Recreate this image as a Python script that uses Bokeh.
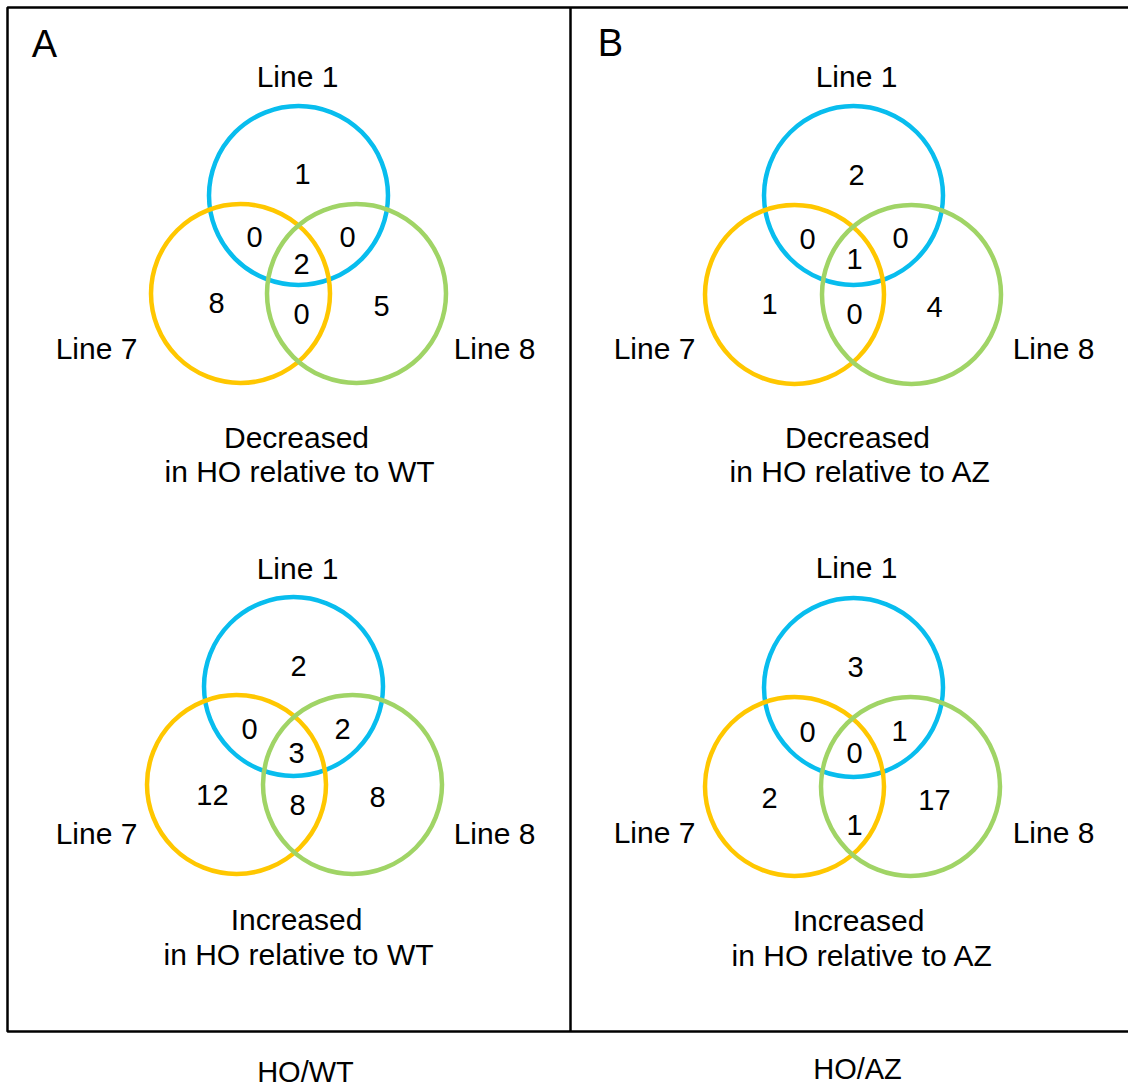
from bokeh.plotting import figure
from bokeh.models import Range1d, ColumnDataSource
from bokeh.embed import file_html
from bokeh.resources import INLINE
from bokeh.core.properties import value

# ---------------- data ----------------
panel_letters = ["A", "B"]
panel_titles = ["HO/WT", "HO/AZ"]
set_names = ["Line 1", "Line 7", "Line 8"]
# region order: only L1, L1&L7, L1&L8, all three, only L7, L7&L8, only L8
decreased_wt = [1, 0, 0, 2, 8, 0, 5]
increased_wt = [2, 0, 2, 3, 12, 8, 8]
decreased_az = [2, 0, 0, 1, 1, 0, 4]
increased_az = [3, 0, 1, 0, 2, 1, 17]
captions = [
    ["Decreased", "in HO relative to WT"],
    ["Increased", "in HO relative to WT"],
    ["Decreased", "in HO relative to AZ"],
    ["Increased", "in HO relative to AZ"],
]
venn_counts = [decreased_wt, increased_wt, decreased_az, increased_az]

# ---------------- layout (pixel coordinates) ----------------
FONT = "Liberation Sans"
R = 89.5
set_colors = ["#08BDEE", "#FFC700", "#A0D466"]
# circle centres per venn: (Line1, Line7, Line8)
centres = [
    [(298, 195), (240, 293), (356, 293)],
    [(293, 686), (236, 784), (352, 784)],
    [(853, 195), (794, 294), (911, 294)],
    [(853, 687), (794, 786), (910, 786)],
]
# number label positions per venn (same region order as data)
num_pos = [
    [(302, 173), (254, 236), (347, 236), (301, 263), (216, 302), (301, 313), (381, 305)],
    [(298, 665), (249, 728), (342, 728), (296, 752), (212, 794), (297, 804), (377, 796)],
    [(856, 174), (807, 238), (900, 237), (854, 258), (769, 303), (854, 313), (934, 306)],
    [(855, 666), (807, 731), (899, 730), (854, 752), (769, 797), (854, 824), (934, 799)],
]
# set label positions per venn: Line 1, Line 7, Line 8
set_label_pos = [
    [(297, 76), (96, 348), (494, 348)],
    [(297, 568), (96, 833), (494, 833)],
    [(856, 76), (654, 348), (1053, 348)],
    [(856, 567), (654, 832), (1053, 832)],
]
caption_pos = [
    [(296, 437), (299, 471)],
    [(296, 919), (298, 954)],
    [(857, 437), (860, 471)],
    [(858, 920), (862, 955)],
]
letter_pos = [(44, 43), (610, 42)]
title_pos = [(305, 1071), (857, 1068)]

W, H = 1128, 1086
p = figure(width=W, height=H, output_backend="svg", toolbar_location=None,
           x_range=Range1d(0, W), y_range=Range1d(H, 0),
           min_border=0)
p.axis.visible = False
p.grid.visible = False
p.outline_line_color = None
p.background_fill_color = "white"
p.border_fill_color = "white"

# frame
p.quad(left=[7], right=[1140], top=[7], bottom=[1031], fill_color=None,
       line_color="black", line_width=2.5)
p.segment(x0=[570], y0=[7], x1=[570], y1=[1031], line_color="black", line_width=2.5)

for v in range(4):
    for s in range(3):
        cx, cy = centres[v][s]
        p.circle(x=[cx], y=[cy], radius=R, radius_dimension="x", fill_color=None,
                 line_color=set_colors[s], line_width=4.5)
    src = ColumnDataSource(dict(
        x=[q[0] for q in num_pos[v]], y=[q[1] for q in num_pos[v]],
        t=[str(c) for c in venn_counts[v]]))
    p.text(x="x", y="y", text="t", source=src, text_font=value(FONT),
           text_font_size="29px", text_align="center", text_baseline="middle",
           text_color="black")
    p.text(x=[q[0] for q in set_label_pos[v]], y=[q[1] for q in set_label_pos[v]],
           text=set_names, text_font=value(FONT), text_font_size="30px",
           text_align="center", text_baseline="middle", text_color="black")
    p.text(x=[q[0] for q in caption_pos[v]], y=[q[1] for q in caption_pos[v]],
           text=captions[v], text_font=value(FONT), text_font_size="30px",
           text_align="center", text_baseline="middle", text_color="black")

p.text(x=[q[0] for q in letter_pos], y=[q[1] for q in letter_pos], text=panel_letters,
       text_font=value(FONT), text_font_size="38px", text_align="center",
       text_baseline="middle", text_color="black")
p.text(x=[q[0] for q in title_pos], y=[q[1] for q in title_pos], text=panel_titles,
       text_font=value(FONT), text_font_size="29px", text_align="center",
       text_baseline="middle", text_color="black")

open("out.html", "w").write(file_html(p, INLINE))
